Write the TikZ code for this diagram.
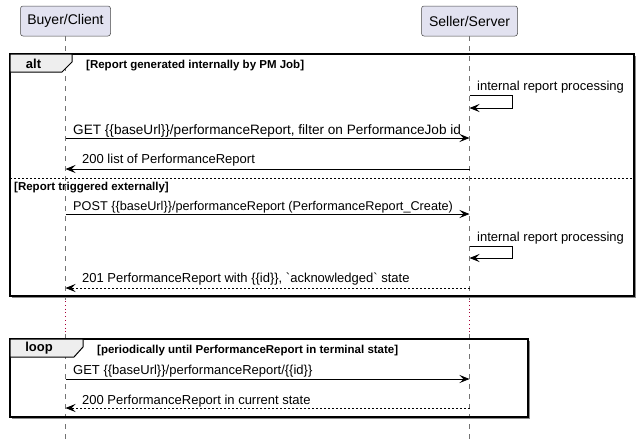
\documentclass[tikz,border=0pt]{standalone}
\usepackage{fontspec}
\setmainfont{Liberation Sans}
\usepackage{xcolor}
\usepackage{tikz}
\usetikzlibrary{arrows.meta, positioning}
\definecolor{actorfill}{HTML}{E2E2F0}
\definecolor{actorline}{HTML}{181818}
\definecolor{tabfill}{HTML}{EEEEEE}
\definecolor{delaycol}{HTML}{A80036}

\begin{document}
\begin{tikzpicture}[
        x=1pt, y=-1pt,
        actor/.style={rectangle, rounded corners=2.5pt, draw=actorline!80, fill=actorfill, line width=0.5pt, minimum height=30pt, inner sep=0pt, font=\fontsize{14}{16}\selectfont},
        lifeline/.style={draw=black!55, line width=0.6pt, dash pattern=on 5pt off 5pt},
        delay/.style={draw=delaycol, line width=0.8pt, dash pattern=on 0.8pt off 3pt},
        msg/.style={draw=black, line width=0.8pt, -{Stealth[length=10pt, width=8pt, inset=4pt]}},
        reply/.style={msg, dash pattern=on 2pt off 2pt},
        msglabel/.style={anchor=base west, inner sep=0pt, font=\fontsize{13}{15}\selectfont},
        frame/.style={draw=black, line width=1.3pt},
        shade/.style={draw=black!45, line width=1pt},
        tab/.style={draw=black, line width=1pt, fill=tabfill},
        tablabel/.style={inner sep=0pt, font=\bfseries\fontsize{13}{15}\selectfont},
        guard/.style={anchor=base west, inner sep=0pt, font=\bfseries\fontsize{11.5}{13}\selectfont},
        split/.style={draw=black, line width=0.6pt, dash pattern=on 2pt off 2pt}
    ]
        \useasboundingbox (0,0) rectangle (640,440);

        % participants
        \node[actor, minimum width=90pt] (buyer) at (65.5,21) {Buyer/Client};
        \node[actor, minimum width=96pt] (seller) at (469.5,21) {Seller/Server};

        % lifelines
        \foreach \who in {buyer, seller} {
            \draw[lifeline] (\who.south) -- (\who |- 0,300);
            \draw[delay] (\who |- 0,301) -- (\who |- 0,333);
            \draw[lifeline] (\who |- 0,334) -- (\who |- 0,440);
        }

        % alt frame
        \draw[shade] (635.5,56) -- (635.5,297.5) -- (12,297.5);
        \draw[frame] (10,54) rectangle (634,296);
        \draw[tab] (10,54) -- (72,54) -- (72,62) -- (62,72) -- (10,72) -- cycle;
        \node[tablabel] (alt) at (33.5,63.5) {alt};
        \node[guard] (guardpm) at (86,68) {[Report generated internally by PM Job]};
        \draw[split] (10,178) -- (634,178);
        \node[guard] (guardext) at (14,190) {[Report triggered externally]};

        % loop frame
        \draw[shade] (529.5,341) -- (529.5,418.5) -- (12,418.5);
        \draw[frame] (10,339) rectangle (528,417);
        \draw[tab] (10,339) -- (83,339) -- (83,347) -- (74,357) -- (10,357) -- cycle;
        \node[tablabel] (loop) at (39,348.5) {loop};
        \node[guard] (guardpoll) at (97,353) {[periodically until PerformanceReport in terminal state]};

        % internally generated report
        \node[msglabel] (procone) at (477,90.5) {internal report processing};
        \draw[msg] (seller |- 0,95) -- ++(43,0) -- ++(0,13) -- (seller |- 0,108);
        \node[msglabel, font=\fontsize{13.6}{15}\selectfont] (getfilter) at (73,134.5) {GET \{\{baseUrl\}\}/performanceReport, filter on PerformanceJob id};
        \draw[msg] (buyer |- 0,138) -- (seller |- 0,138);
        \node[msglabel] (listok) at (82,163.5) {200 list of PerformanceReport};
        \draw[msg] (seller |- 0,169) -- (buyer |- 0,169);

        % externally triggered report
        \node[msglabel, font=\fontsize{12.7}{15}\selectfont] (post) at (73,210.5) {POST \{\{baseUrl\}\}/performanceReport (PerformanceReport\_Create)};
        \draw[msg] (buyer |- 0,214) -- (seller |- 0,214);
        \node[msglabel] (proctwo) at (477,241.5) {internal report processing};
        \draw[msg] (seller |- 0,246) -- ++(43,0) -- ++(0,12) -- (seller |- 0,258);
        \node[msglabel] (acked) at (82,282.5) {201 PerformanceReport with \{\{id\}\}, \textasciigrave acknowledged\textasciigrave{} state};
        \draw[reply] (seller |- 0,288) -- (buyer |- 0,288);

        % polling
        \node[msglabel] (getid) at (73,374.5) {GET \{\{baseUrl\}\}/performanceReport/\{\{id\}\}};
        \draw[msg] (buyer |- 0,379) -- (seller |- 0,379);
        \node[msglabel] (current) at (82,404) {200 PerformanceReport in current state};
        \draw[reply] (seller |- 0,408) -- (buyer |- 0,408);
    \end{tikzpicture}
\end{document}
